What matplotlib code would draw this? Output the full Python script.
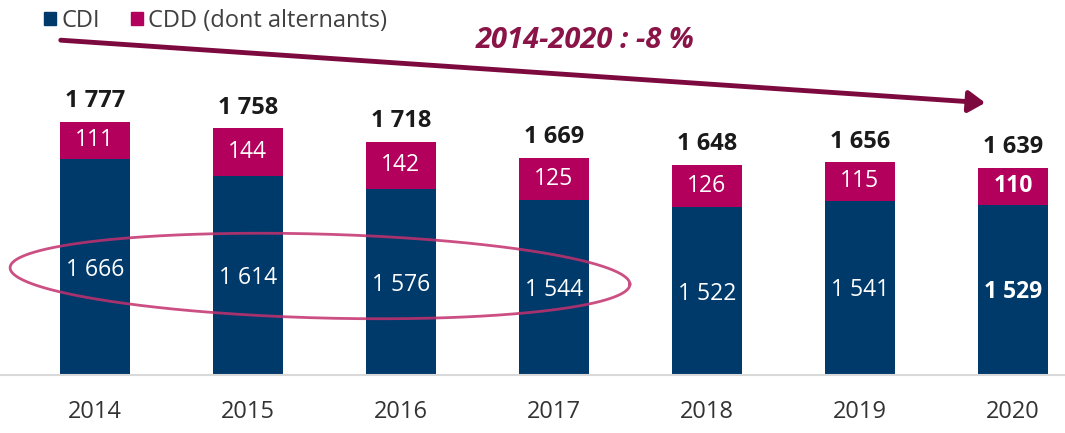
import numpy as np
import matplotlib
matplotlib.use("Agg")
import matplotlib.pyplot as plt
from matplotlib.patches import Patch, FancyArrowPatch

plt.rcParams["font.family"] = ["Open Sans", "DejaVu Sans"]

# -------- données --------
years = ["2014", "2015", "2016", "2017", "2018", "2019", "2020"]
cdi = [1666, 1614, 1576, 1544, 1522, 1541, 1529]
cdd = [111, 144, 142, 125, 126, 115, 110]
totals = [1777, 1758, 1718, 1669, 1648, 1656, 1639]

NAVY = "#003a6b"
CRIMSON = "#b3005c"
MAROON = "#7d0a3e"

W, H = 1065, 433
fig = plt.figure(figsize=(W / 100, H / 100), dpi=100)
ax = fig.add_axes([0, (H - 375) / H, 1, 375 / H])

x = np.arange(len(years))
w = 0.46
ax.bar(x, cdi, w, color=NAVY, zorder=2)
ax.bar(x, cdd, w, bottom=cdi, color=CRIMSON, zorder=2)

y0 = 1017
ax.set_xlim(-0.62, 6.34)
ax.set_ylim(y0, y0 + 375 / 0.333)

for i in range(len(years)):
    last = i == len(years) - 1
    fw = "bold" if last else "normal"
    ax.text(x[i], (y0 + cdi[i]) / 2 - 8, f"{cdi[i]:,}".replace(",", " "),
            ha="center", va="center", color="white", fontsize=16.5, weight=fw, zorder=3)
    ax.text(x[i], cdi[i] + cdd[i] / 2, str(cdd[i]),
            ha="center", va="center", color="white", fontsize=16.5, weight=fw, zorder=3)
    ax.text(x[i], totals[i] + 62, f"{totals[i]:,}".replace(",", " "),
            ha="center", va="center", color="#1a1a1a", fontsize=17, weight="bold")

for s in ["top", "right", "left"]:
    ax.spines[s].set_visible(False)
ax.spines["bottom"].set_color("#d9d9d9")
ax.spines["bottom"].set_linewidth(1.5)
ax.set_yticks([])
ax.set_xticks(x)
ax.set_xticklabels(years, fontsize=17, color="#333333")
ax.tick_params(axis="x", length=0, pad=18)

# légende
leg = fig.legend(handles=[Patch(color=NAVY, label="CDI"),
                          Patch(color=CRIMSON, label="CDD (dont alternants)")],
                 loc="center left", bbox_to_anchor=(0.030, 1 - 21 / H), ncol=2,
                 frameon=False, fontsize=17, handlelength=0.5, handleheight=0.5,
                 handletextpad=0.25, columnspacing=1.3, borderpad=0)
for t in leg.get_texts():
    t.set_color("#404040")

# flèche de tendance
fig.patches.append(FancyArrowPatch(
    (58 / W, 1 - 40 / H), (988 / W, 1 - 103 / H), transform=fig.transFigure,
    arrowstyle="-|>,head_length=4,head_width=2.6", mutation_scale=2.5,
    color=MAROON, linewidth=3.5))
fig.text(585 / W, 1 - 40 / H, "2014-2020 : -8 %", ha="center", va="center",
         color="#8a1347", fontsize=21, weight="bold", style="italic")

# ellipse autour des CDI 2014-2017
t = np.linspace(0, 2 * np.pi, 400)
cx, cy, a, b, th = 320, 276, 310, 42, np.deg2rad(-1.5)
px = cx + a * np.cos(t) * np.cos(th) - b * np.sin(t) * np.sin(th)
py = cy + a * np.cos(t) * np.sin(-th) + b * np.sin(t) * np.cos(th)
fig.add_artist(plt.Line2D(px / W, 1 - py / H, transform=fig.transFigure,
                          color="#c4306e", linewidth=2, alpha=0.85, zorder=5))

fig.savefig("out.png", dpi=100)
